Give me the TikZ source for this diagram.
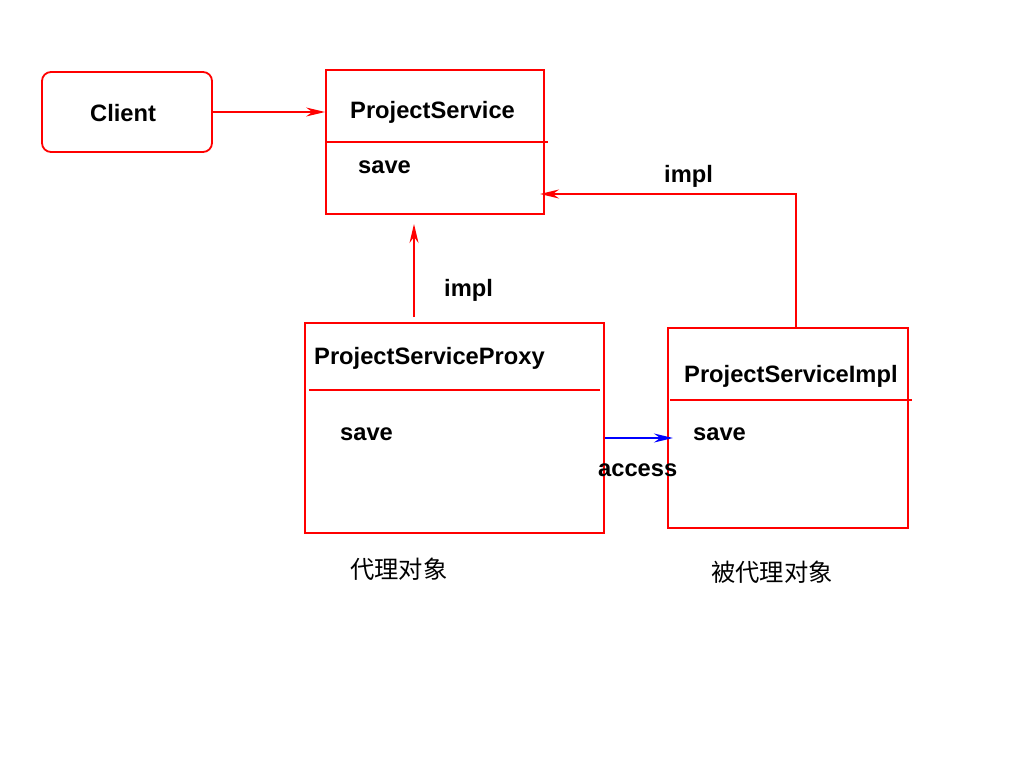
\documentclass[tikz,border=0pt]{standalone}
\usepackage{fontspec}
\setmainfont{Liberation Sans}
\newfontfamily\cjk{Noto Sans CJK SC}
\usetikzlibrary{arrows.meta, positioning}

\begin{document}
\begin{tikzpicture}[
	x=1pt, y=-1pt,
	>={Stealth[length=19pt,width=9pt]},
	box/.style={
		draw=red, % General options for all boxes
		line width=1.8pt,
		inner sep=0pt,
	},
	conn/.style={draw=red, line width=1.4pt},
	divider/.style={draw=red, line width=1.1pt},
	txt/.style={anchor=base west, inner sep=0pt,
		font=\fontsize{23.7}{26}\selectfont\bfseries},
	zh/.style={anchor=base west, inner sep=0pt,
		font=\fontsize{24.3}{28}\selectfont\cjk},
]
	\useasboundingbox (0,0) rectangle (1024,768);

	% boxes
	\node[box, rounded corners=9pt, minimum width=170pt, minimum height=80pt]
		(client) at (127,112) {};
	\node[box, minimum width=218pt, minimum height=144pt] (ps) at (435,142) {};
	\node[box, minimum width=299pt, minimum height=210pt] (proxy) at (454.5,428) {};
	\node[box, minimum width=240pt, minimum height=200pt] (impl) at (788,428) {};

	% compartment lines
	\draw[divider] (326,142) -- (548,142);
	\draw[divider] (309,390) -- (600,390);
	\draw[divider] (670,400) -- (912,400);

	% texts
	\node[txt] (clientname) at (90,121) {Client};
	\node[txt] (psname) at (350,118) {ProjectService};
	\node[txt] (pssave) at (358,173) {save};
	\node[txt] (proxyname) at (314,364) {ProjectServiceProxy};
	\node[txt] (proxysave) at (340,440) {save};
	\node[txt] (implname) at (684,382) {ProjectServiceImpl};
	\node[txt] (implsave) at (693,440) {save};
	\node[zh] (proxylabel) at (350,578) {代理对象};
	\node[zh] (impllabel) at (711,581) {被代理对象};

	% connectors
	\coordinate (proxytop) at (414,317);
	\coordinate (psbottom) at (414,224);
	\coordinate (impltop) at (796,328);
	\coordinate (psright) at (540,194);
	\coordinate (implleft) at (673,438);

	\draw[conn,->] (client.east) -- (ps.west |- client.east);
	\draw[conn,->] (proxytop) -- (psbottom);
	\draw[conn,->] (impltop) |- (psright);
	\draw[draw=blue, line width=1.4pt, ->] (proxy.east |- implleft) -- (implleft);

	\node[txt] (impl1) at (444,296) {impl};
	\node[txt] (impl2) at (664,182) {impl};
	\node[txt] (access) at (598,476) {access};

\end{tikzpicture}
\end{document}
